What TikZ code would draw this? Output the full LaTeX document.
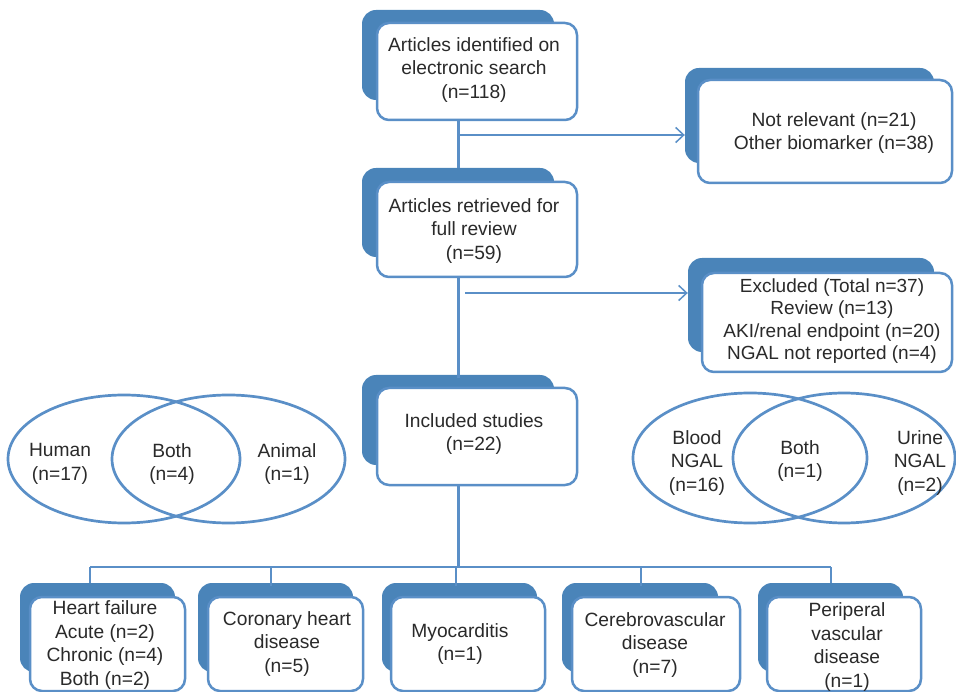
\documentclass[tikz,border=0pt]{standalone}
\usepackage{fontspec}
\setmainfont{Liberation Sans}
\usetikzlibrary{arrows.meta,shapes.geometric,fit}
\definecolor{shadc}{HTML}{4A84B9}
\definecolor{linec}{HTML}{5A8FC7}
\definecolor{txtc}{HTML}{2A2A2A}
\newcommand\pbox[9]{%
  \node[shad, fit={(#2,#3) (#4,#5)}] (#1s) {};
  \node[frontbox, fit={(#6,#7) (#8,#9)}] (#1) {};
}
\begin{document}
\begin{tikzpicture}[x=1pt,y=-1pt,
  shad/.style={fill=shadc, draw=none, rounded corners=14pt, inner sep=0pt},
  frontbox/.style={fill=white, draw=linec, line width=2.5pt, rounded corners=12pt, inner sep=0pt},
  txt/.style={text=txtc, align=center, font=\fontsize{19.2}{23.5}\selectfont, inner sep=0pt},
  ell/.style={ellipse, draw=linec, line width=2.7pt, inner sep=0pt},
  conn/.style={draw=linec, line width=3pt},
  thin/.style={draw=linec, line width=2.2pt},
  arr/.style={draw=linec, line width=1.8pt, -{Straight Barb[length=8pt,width=15pt,line width=1.5pt]}}
]
\useasboundingbox (0,0) rectangle (956,692);

% main column boxes
\pbox{b1}{362}{10}{554}{100}{377}{23}{577}{120}
\pbox{b2}{362}{168}{554}{257}{377}{182}{577}{277}
\pbox{b3}{362}{375}{554}{465}{377}{388}{577}{485}
% side boxes
\pbox{nr}{685}{68}{934}{163}{698}{80}{952}{183}
\pbox{ex}{688}{258}{934}{352}{702}{273}{952}{372}
% bottom boxes
\pbox{hf}{20}{583}{175}{672}{30}{597}{185}{691}
\pbox{ch}{198}{583}{353}{672}{208}{597}{363}{691}
\pbox{my}{382}{583}{537}{672}{391}{597}{545}{691}
\pbox{cv}{562}{583}{718}{672}{572}{597}{740}{691}
\pbox{pv}{758}{583}{903}{672}{767}{597}{921}{691}

% texts
\node[txt] (t1) at (474,70) {Articles identified on\\electronic search\\(n=118)};
\node[txt] (t2) at (474,231) {Articles retrieved for\\full review\\(n=59)};
\node[txt] (t3) at (474,434) {Included studies\\(n=22)};
\node[txt] (tnr) at (834,133) {Not relevant (n=21)\\Other biomarker (n=38)};
\node[txt, font=\fontsize{19}{22.5}\selectfont] (tex) at (832,321) {Excluded (Total n=37)\\Review (n=13)\\AKI/renal endpoint (n=20)\\NGAL not reported (n=4)};
\node[txt] (thf) at (105,645) {Heart failure\\Acute (n=2)\\Chronic (n=4)\\Both (n=2)};
\node[txt] (tch) at (287,644) {Coronary heart\\disease\\(n=5)};
\node[txt] (tmy) at (460,644) {Myocarditis\\(n=1)};
\node[txt] (tcv) at (655,645) {Cerebrovascular\\disease\\(n=7)};
\node[txt] (tpv) at (847,647) {Periperal\\vascular\\disease\\(n=1)};

% ellipses
\node[ell, minimum width=232, minimum height=128] (hum) at (124,459) {};
\node[ell, minimum width=233, minimum height=128] (ani) at (228.5,459) {};
\node[txt] (thum) at (60,464) {Human\\(n=17)};
\node[txt] (tboth1) at (172,464) {Both\\(n=4)};
\node[txt] (tani) at (287,464) {Animal\\(n=1)};
\node[ell, minimum width=234, minimum height=130] (blo) at (750,458) {};
\node[ell, minimum width=222, minimum height=130] (uri) at (844,458) {};
\node[txt] (tblo) at (697,463) {Blood\\NGAL\\(n=16)};
\node[txt] (tboth2) at (800,461) {Both\\(n=1)};
\node[txt] (turi) at (920,463) {Urine\\NGAL\\(n=2)};

% connectors
\coordinate (trunk) at (458,0);
\draw[conn] (b1.south -| trunk) -- (b2s.north -| trunk);
\draw[conn] (b2.south -| trunk) -- ([yshift=-3pt]b3s.north -| trunk);
\coordinate (j1) at (458,135);
\draw[arr] (j1) -- (j1 -| nrs.west);
\coordinate (j2) at (465,293);
\draw[arr] (j2) -- (j2 -| exs.west);
\coordinate (bar) at (458,567);
\draw[conn] (b3.south -| trunk) -- (bar);
\coordinate (d1) at (90,567);
\coordinate (d2) at (271,567);
\coordinate (d3) at (456,567);
\coordinate (d4) at (641,567);
\coordinate (d5) at (831,567);
\draw[thin] (d1) -- (d5);
\draw[thin] (d1) -- (d1 |- hfs.north);
\draw[thin] (d2) -- ([yshift=-3pt]d2 |- chs.north);
\draw[thin] (d3) -- ([yshift=-3pt]d3 |- mys.north);
\draw[thin] (d4) -- ([yshift=-3pt]d4 |- cvs.north);
\draw[thin] (d5) -- (d5 |- pvs.north);
\end{tikzpicture}
\end{document}
